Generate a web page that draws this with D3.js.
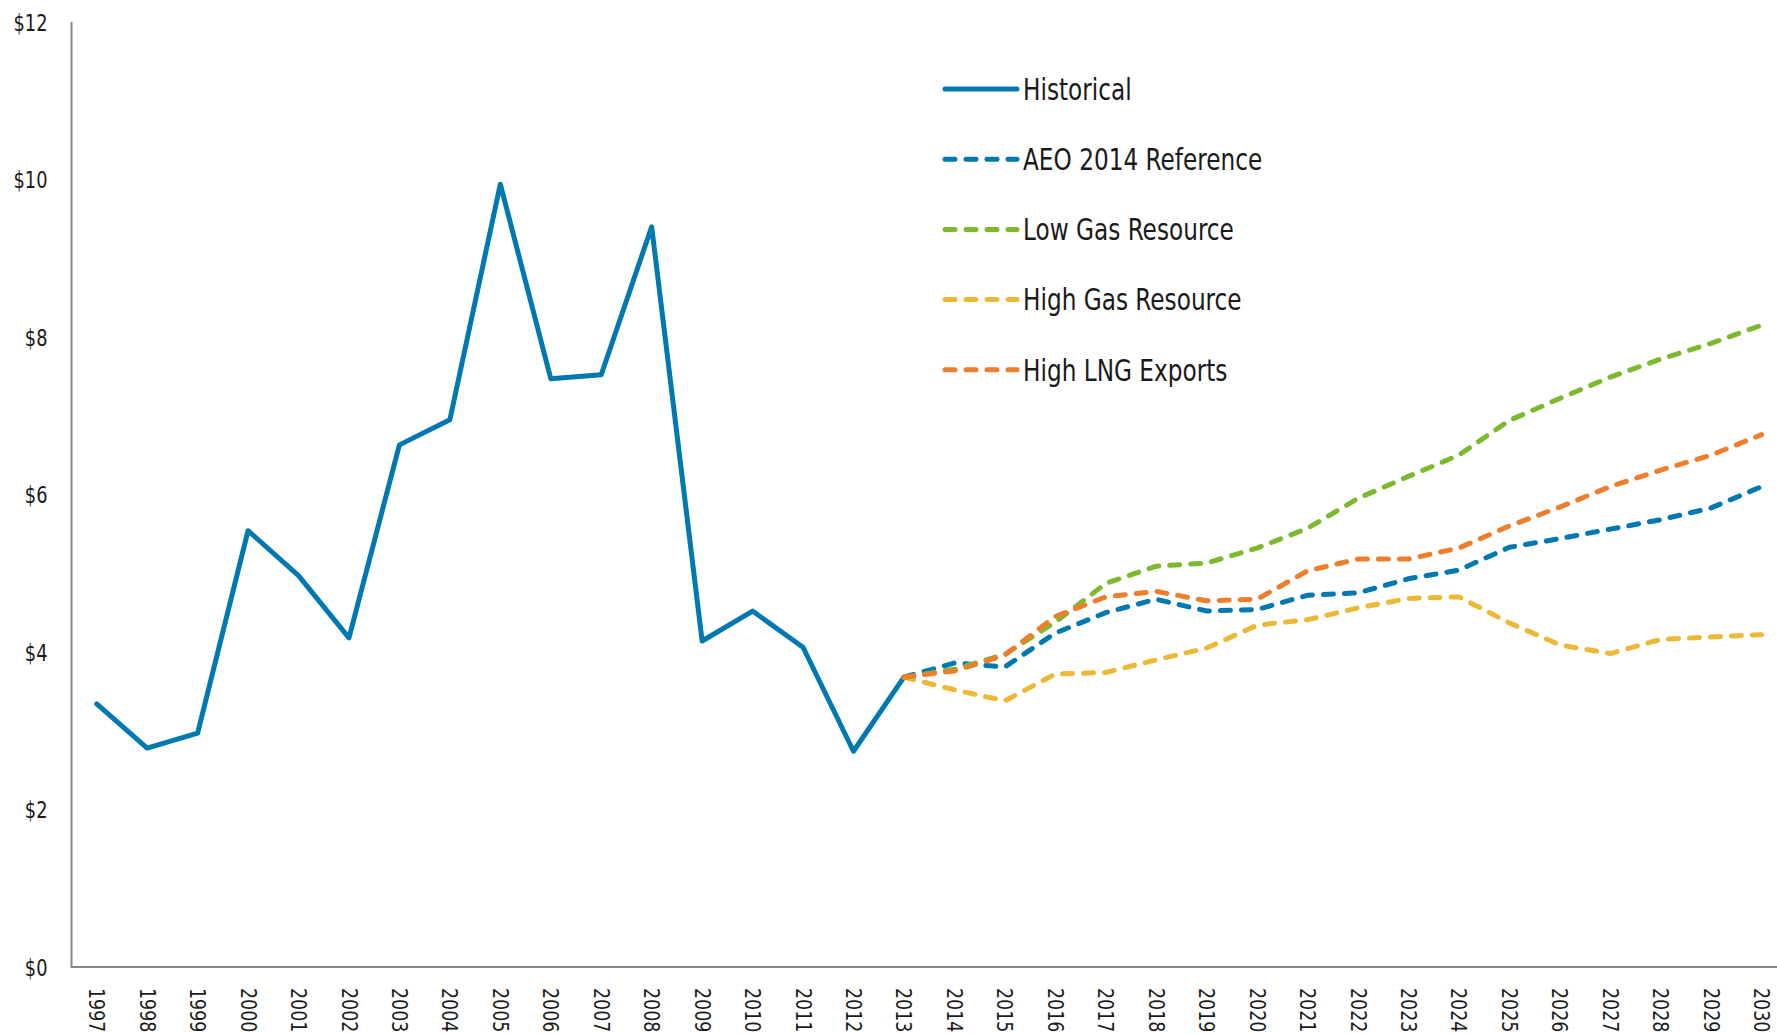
<!DOCTYPE html>
<html>
<head>
<meta charset="utf-8">
<script src="https://cdn.jsdelivr.net/npm/d3@7"></script>
<style>
  body { margin: 0; background: #fff; }
  svg text { font-family: "Liberation Sans Narrow", "DejaVu Sans Condensed", "Roboto", sans-serif; fill: #1a1a1a; }
  .y-label { font-size: 23px; }
  .x-label { font-size: 22px; }
  .legend-label { font-size: 30px; }
</style>
</head>
<body>
<div id="chart"></div>
<script>
// years on the x axis
var years = d3.range(1997, 2031);

// natural gas price, $ per MMBtu
var historicalYears = d3.range(1997, 2014);
var historical = [3.34, 2.78, 2.97, 5.54, 4.97, 4.18, 6.63, 6.95, 9.94, 7.47, 7.52, 9.40, 4.14, 4.52, 4.06, 2.74, 3.68];

var projYears = d3.range(2013, 2031);
var aeoReference = [3.68, 3.86, 3.81, 4.24, 4.50, 4.67, 4.52, 4.54, 4.72, 4.75, 4.93, 5.04, 5.33, 5.44, 5.56, 5.68, 5.83, 6.10];
var lowGas       = [3.68, 3.78, 3.97, 4.38, 4.87, 5.09, 5.13, 5.32, 5.57, 5.95, 6.23, 6.50, 6.94, 7.22, 7.49, 7.72, 7.92, 8.15];
var highGas      = [3.68, 3.52, 3.38, 3.72, 3.74, 3.90, 4.05, 4.34, 4.41, 4.56, 4.68, 4.70, 4.37, 4.09, 3.98, 4.16, 4.19, 4.22];
var highLng      = [3.68, 3.76, 3.96, 4.45, 4.70, 4.77, 4.65, 4.67, 5.03, 5.18, 5.18, 5.32, 5.60, 5.84, 6.10, 6.31, 6.50, 6.76];

var yTicks = [0, 2, 4, 6, 8, 10, 12];

var seriesNames = ["Historical", "AEO 2014 Reference", "Low Gas Resource", "High Gas Resource", "High LNG Exports"];
var seriesColors = ["#0079b1", "#0079b1", "#7db92f", "#ebb935", "#ee7e2b"];

var w = 1777, h = 1034;
var padLeft = 71.5, padTop = 22, baseY = 967;
var narrow = 0.86; // squeeze text to look like the condensed face of the original

var svg = d3.select("#chart")
    .append("svg")
    .attr("width", w)
    .attr("height", h);

var xScale = d3.scalePoint()
    .domain(years)
    .range([padLeft, padLeft + 34 * 50.45])
    .padding(0.5);

var yScale = d3.scaleLinear()
    .domain([0, 12])
    .range([baseY, padTop]);

// y axis, no tick marks, labels only
var yAxis = d3.axisLeft(yScale)
    .tickValues(yTicks)
    .tickSize(0)
    .tickPadding(0)
    .tickFormat(function(d){ return "$" + d; });

var gy = svg.append("g")
    .attr("transform", "translate(" + padLeft + ",0)")
    .call(yAxis);
gy.select(".domain").remove();
gy.selectAll("text")
    .attr("class", "y-label")
    .attr("x", 0)
    .attr("dy", "0.36em")
    .attr("transform", "translate(-24,0) scale(" + narrow + ",1)");

// x axis with rotated year labels
var xAxis = d3.axisBottom(xScale)
    .tickSize(0)
    .tickPadding(0)
    .tickFormat(function(d){ return d; });

var gx = svg.append("g")
    .attr("transform", "translate(0," + baseY + ")")
    .call(xAxis);
gx.select(".domain").remove();
gx.selectAll("text")
    .attr("class", "x-label")
    .attr("y", 0)
    .attr("dy", "0.36em")
    .attr("transform", "translate(0,21) rotate(90) scale(0.88,1)")
    .style("text-anchor", "start");

// axis lines
svg.append("line")
    .attr("x1", padLeft).attr("x2", padLeft)
    .attr("y1", padTop).attr("y2", baseY)
    .attr("stroke", "#878787")
    .attr("stroke-width", 2);
svg.append("line")
    .attr("x1", padLeft - 1).attr("x2", w)
    .attr("y1", baseY).attr("y2", baseY)
    .attr("stroke", "#878787")
    .attr("stroke-width", 2);

var line = d3.line()
    .x(function(d){ return xScale(d[0]); })
    .y(function(d){ return yScale(d[1]); });

function drawSeries(xs, vals, color, dashed){
    var pts = xs.map(function(x, i){ return [x, vals[i]]; });
    svg.append("path")
        .datum(pts)
        .attr("d", line)
        .attr("fill", "none")
        .attr("stroke", color)
        .attr("stroke-width", 5)
        .attr("stroke-linejoin", "round")
        .attr("stroke-linecap", "round")
        .attr("stroke-dasharray", dashed ? "10 11" : null);
}

drawSeries(historicalYears, historical, seriesColors[0], false);
drawSeries(projYears, aeoReference, seriesColors[1], true);
drawSeries(projYears, highGas, seriesColors[3], true);
drawSeries(projYears, lowGas, seriesColors[2], true);
drawSeries(projYears, highLng, seriesColors[4], true);

// legend
var legend = svg.append("g").attr("transform", "translate(945,89)");
seriesNames.forEach(function(name, i){
    var g = legend.append("g").attr("transform", "translate(0," + (i * 70.2) + ")");
    g.append("line")
        .attr("x1", 0).attr("x2", 72)
        .attr("y1", 0).attr("y2", 0)
        .attr("stroke", seriesColors[i])
        .attr("stroke-width", 5)
        .attr("stroke-linecap", "round")
        .attr("stroke-dasharray", i == 0 ? null : "10 11");
    g.append("text")
        .attr("class", "legend-label")
        .attr("x", 0)
        .attr("y", 0)
        .attr("dy", "0.36em")
        .attr("transform", "translate(78,0) scale(" + narrow + ",1)")
        .text(name);
});
</script>
</body>
</html>
